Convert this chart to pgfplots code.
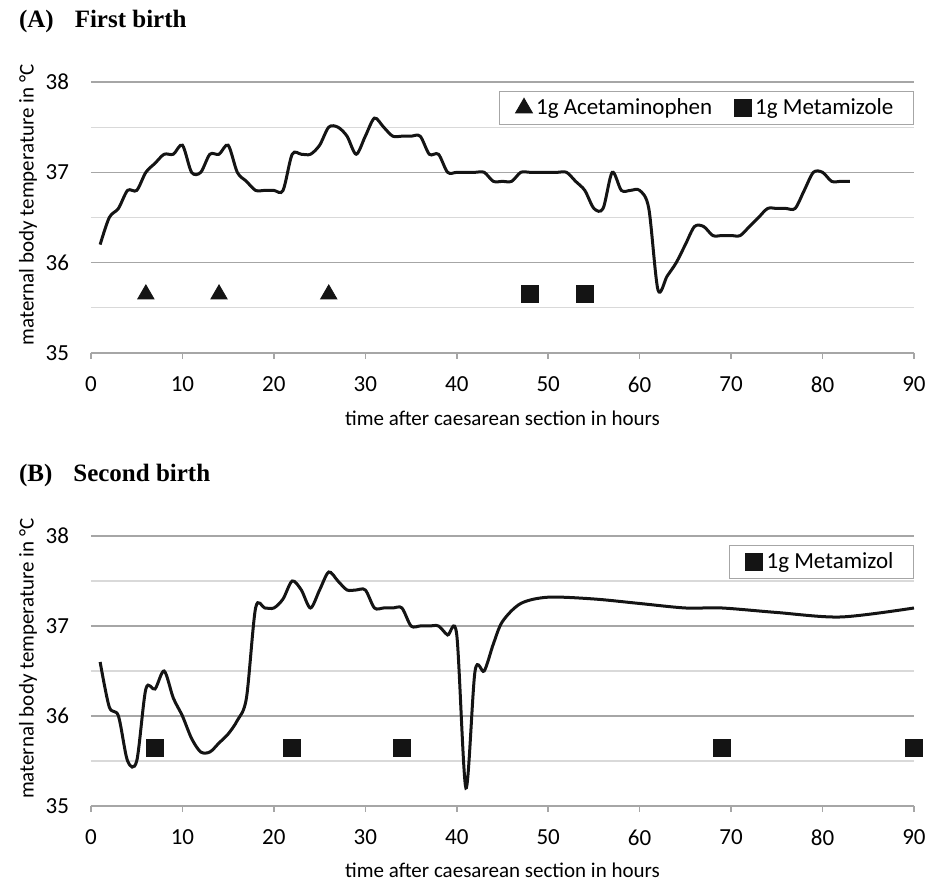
\documentclass[border=0pt]{standalone}
\usepackage{fontspec}
\setmainfont{Carlito}
\newfontfamily\titlefont{Liberation Serif}
\usepackage{pgfplots}
\pgfplotsset{compat=1.18}
\definecolor{majgrid}{HTML}{A6A6A6}
\definecolor{mingrid}{HTML}{D9D9D9}
\definecolor{curve}{HTML}{141414}
\pgfplotsset{
 tempaxis/.style={
  scale only axis, width=411.5pt, height=135.5pt,
  xmin=0, xmax=90, ymin=35, ymax=38,
  xtick={0,10,...,90}, ytick={35,36,37,38}, minor ytick={35.5,36.5,37.5},
  ymajorgrids, yminorgrids,
  major grid style={majgrid, line width=0.8pt},
  minor grid style={mingrid, line width=0.6pt},
  axis lines*=left,
  x axis line style={majgrid, line width=0.8pt},
  y axis line style={draw=none},
  ytick style={draw=none},
  minor tick style={draw=none},
  xtick style={majgrid, line width=0.8pt},
  tick align=outside, major tick length=3pt,
  ticklabel style={font=\fontsize{11.5}{13}\selectfont},
  xticklabel style={yshift=-5.5pt},
  yticklabel style={xshift=-4.5pt},
  /pgf/number format/assume math mode=true,
  xlabel={time after caesarean section in hours},
  ylabel={maternal body temperature in °C},
  label style={font=\fontsize{10.5}{12}\selectfont},
  xlabel style={at={(axis description cs:0.5,-0.24)}, anchor=center},
  ylabel style={at={(axis description cs:-0.0766,0.546)}, anchor=center},
  title style={at={(axis description cs:0,1)}, anchor=base west, xshift=-39.5pt, yshift=21pt, font=\titlefont\bfseries\fontsize{12.5}{14}\selectfont},
  legend style={at={(1,1)}, anchor=north east, yshift=-4.5pt, draw=majgrid, line width=0.6pt,
    font=\fontsize{11.5}{13}\selectfont, legend columns=-1, inner xsep=8pt, inner ysep=1.5pt,
    /tikz/every even column/.append style={column sep=9pt}},
  legend image code/.code={\draw[#1] plot coordinates {(0pt,0pt)};},
  clip=false,
 }
}
\begin{document}
\begin{tikzpicture}
\useasboundingbox (-45.5pt,-37.5pt) rectangle (424pt,403pt);
% (A) First birth
\begin{axis}[tempaxis, at={(0,226.5pt)},
  title={(A)\hspace{10.5pt}First birth}]
\addplot[curve, line width=1.5pt, smooth, forget plot] table {
x y
1 36.2
2 36.5
3 36.6
4 36.8
5 36.8
6 37.0
7 37.1
8 37.2
9 37.2
10 37.3
11 37.0
12 37.0
13 37.2
14 37.2
15 37.3
16 37.0
17 36.9
18 36.8
19 36.8
20 36.8
21 36.8
22 37.2
23 37.2
24 37.2
25 37.3
26 37.5
27 37.5
28 37.4
29 37.2
30 37.4
31 37.6
32 37.5
33 37.4
34 37.4
35 37.4
36 37.4
37 37.2
38 37.2
39 37.0
40 37.0
41 37.0
42 37.0
43 37.0
44 36.9
45 36.9
46 36.9
47 37.0
48 37.0
49 37.0
50 37.0
51 37.0
52 37.0
53 36.9
54 36.8
55 36.6
56 36.6
57 37.0
58 36.8
59 36.8
60 36.8
61 36.6
62 35.7
63 35.85
64 36.0
65 36.2
66 36.4
67 36.4
68 36.3
69 36.3
70 36.3
71 36.3
72 36.4
73 36.5
74 36.6
75 36.6
76 36.6
77 36.6
78 36.8
79 37.0
80 37.0
81 36.9
82 36.9
83 36.9
};
\addplot[curve, only marks, mark=triangle*, mark size=4.7pt] table {
x y
6 35.65
14 35.65
26 35.65
};
\addlegendentry{1g Acetaminophen}
\addplot[curve, only marks, mark=square*, mark size=4.25pt] table {
x y
48 35.65
54 35.65
};
\addlegendentry{1g Metamizole}
\end{axis}
% (B) Second birth
\begin{axis}[tempaxis, at={(0,0)}, height=135pt,
  title={(B)\hspace{10.5pt}Second birth}]
\addplot[curve, line width=1.5pt, smooth, forget plot] table {
x y
1 36.6
2 36.1
3 36.0
4 35.5
5 35.5
6 36.3
7 36.3
8 36.5
9 36.2
10 36.0
11 35.75
12 35.6
13 35.6
14 35.7
15 35.8
16 35.95
17 36.2
18 37.2
19 37.2
20 37.2
21 37.3
22 37.5
23 37.4
24 37.2
25 37.4
26 37.6
27 37.5
28 37.4
29 37.4
30 37.4
31 37.2
32 37.2
33 37.2
34 37.2
35 37.0
36 37.0
37 37.0
38 37.0
39 36.9
40 36.9
41 35.2
42 36.5
43 36.5
44 36.8
45 37.05
47 37.25
50 37.32
55 37.3
60 37.25
65 37.2
69 37.2
75 37.15
82 37.1
90 37.2
};
\addplot[curve, only marks, mark=square*, mark size=4.25pt] table {
x y
7 35.65
22 35.65
34 35.65
69 35.65
90 35.65
};
\addlegendentry{1g Metamizol}
\end{axis}
\end{tikzpicture}
\end{document}
